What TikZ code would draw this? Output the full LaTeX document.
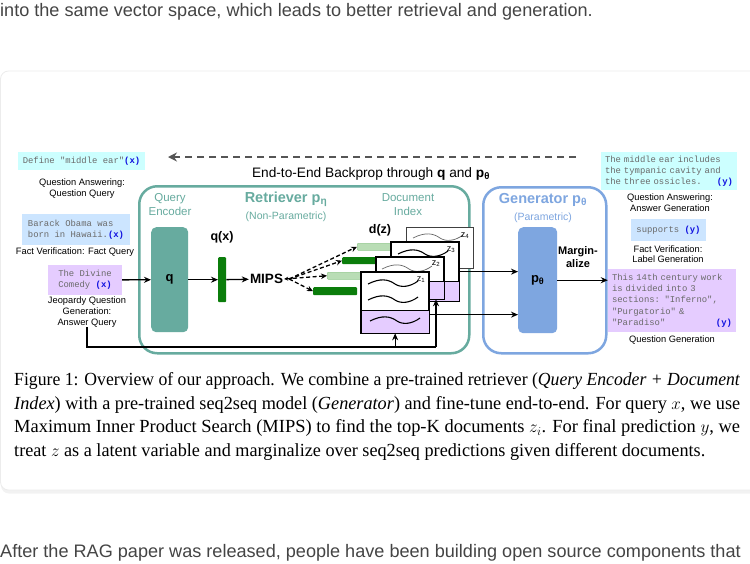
\documentclass[tikz,border=0pt]{standalone}
\usepackage{fontspec}
\usepackage{graphicx}
\setmainfont{Liberation Sans}
\setmonofont{Liberation Mono}
\newfontfamily\capfont{Liberation Serif}
\usetikzlibrary{arrows.meta}
\definecolor{tealc}{HTML}{67AB9F}
\definecolor{bluec}{HTML}{7EA6E0}
\definecolor{dgreen}{HTML}{0B7D0B}
\definecolor{lgreen}{HTML}{B9DDB5}
\definecolor{lgreenb}{HTML}{93C98F}
\definecolor{purpc}{HTML}{E5CCFF}
\definecolor{cyanc}{HTML}{CCFFFF}
\definecolor{lbluec}{HTML}{CCE5FF}
\definecolor{xbluec}{HTML}{1010E0}
\definecolor{monoc}{HTML}{6B6B6B}
\definecolor{webc}{HTML}{444444}
\definecolor{cardb}{HTML}{ECECEC}
\definecolor{bpc}{HTML}{555555}
\newcommand{\xv}{\textcolor{xbluec}{\bfseries(x)}}
\newcommand{\yv}{\textcolor{xbluec}{\bfseries(y)}}
\newcommand{\docpurp}[2]{%
  \fill[purpc] (#1.south west) rectangle ([yshift=#2]#1.south east);
  \draw[line width=1.3pt] ([yshift=#2]#1.south west) -- ([yshift=#2]#1.south east);
  \draw[line width=1.3pt] (#1.south west) rectangle (#1.north east);}
\tikzset{
  arr/.style={-{Stealth[length=7pt,width=6pt]}, line width=1.3pt},
  darr/.style={-{Stealth[length=6pt,width=5.5pt]}, line width=1.3pt, dash pattern=on 4pt off 2.5pt},
  lbl/.style={font=\fontsize{9.3}{10.6}\selectfont, align=center, inner sep=0pt},
  monobox/.style={font=\ttfamily\fontsize{8.9}{11.3}\selectfont, text=monoc, inner sep=0pt},
  tealtxt/.style={text=tealc, align=center, inner sep=0pt, font=\fontsize{11.5}{14.4}\selectfont},
  blk/.style={rounded corners=5pt, inner sep=0pt, anchor=north west},
  bar/.style={inner sep=0pt, anchor=north west, rounded corners=1pt},
  lightbar/.style={fill=lgreen, draw=lgreenb, line width=0.5pt},
  doc/.style={draw=black, line width=1.3pt, fill=white, inner sep=0pt, anchor=north west, minimum width=67pt},
  zl/.style={font=\fontsize{9}{10}\selectfont, inner sep=0pt},
  bold/.style={font=\bfseries\fontsize{12.5}{14}\selectfont, inner sep=0pt},
  squig/.pic={\draw[line width=1.1pt] (0,0) .. controls (12,-6) and (20,-5) .. (27,0) .. controls (33,4) and (42,3) .. (50,-3);},
  squigl/.pic={\draw[line width=0.7pt, black!60] (0,0) .. controls (12,-6) and (20,-5) .. (27,0) .. controls (33,4) and (42,3) .. (50,-3);},
  web/.style={anchor=base west, inner sep=0pt, text=webc, font=\fontsize{18.1}{22}\selectfont},
  capl/.style={anchor=base west, inner sep=0pt, font=\capfont\fontsize{18.5}{23.5}\selectfont}
}
\begin{document}
\begin{tikzpicture}[x=1pt,y=-1pt]
\path[use as bounding box] (0,0) rectangle (750,563);
% page text
\node[web] (toptxt) at (0,16) {into the same vector space, which leads to better retrieval and generation.};
\node[web] (bottxt) at (0,557) {After the RAG paper was released, people have been building open source components that};
% card
\fill[black!5, rounded corners=8pt] (1,74) rectangle (770,493.5);
\draw[cardb, fill=white, rounded corners=8pt, line width=0.8pt] (0.5,71) rectangle (770,490);
% backprop
\coordinate (bpS) at (576,157);
\coordinate (bpE) at (168,157);
\draw[bpc, line width=2pt, dash pattern=on 7pt off 5pt, -{Stealth[length=9pt,width=9pt]}] (bpS) -- (bpE);
\node[font=\fontsize{13.7}{15}\selectfont, inner sep=0pt] (bptxt) at (371,174) {End-to-End Backprop through \textbf{q} and \textbf{p\textsubscript{θ}}};
% containers
\node[draw=tealc, line width=2.5pt, rounded corners=18pt, minimum width=330pt, minimum height=167pt, anchor=north west, inner sep=0pt] (ret) at (138,185) {};
\node[draw=bluec, line width=2.5pt, rounded corners=18pt, minimum width=123pt, minimum height=166pt, anchor=north west, inner sep=0pt] (gen) at (482,186) {};
% retriever labels
\node[tealtxt] (qelab) at (170,204.5) {Query\\Encoder};
\node[text=tealc, font=\bfseries\fontsize{14.5}{16}\selectfont, inner sep=0pt] (rettitle) at (286,199) {Retriever p\textsubscript{η}};
\node[text=tealc, font=\fontsize{10.5}{12}\selectfont, inner sep=0pt] (retsub) at (286,217) {(Non-Parametric)};
\node[tealtxt] (dilab) at (408,204.5) {Document\\Index};
% query encoder
\node[fill=tealc, blk, minimum width=37pt, minimum height=105pt, font=\bfseries\fontsize{13}{15}\selectfont] (qenc) at (151,227) {q};
\node[fill=dgreen, bar, minimum width=8pt, minimum height=45pt] (qx) at (218,257) {};
\node[bold] (qxlab) at (222,237) {q(x)};
\node[font=\bfseries\fontsize{13.5}{15}\selectfont, inner sep=1pt] (mips) at (266.5,279) {MIPS};
\draw[arr] (qenc) -- (qx);
\draw[arr] (qx) -- (mips);
% bars
\node[bar, lightbar, minimum width=34pt, minimum height=7pt] (b4) at (357,243) {};
\node[bar, fill=dgreen, minimum width=35pt, minimum height=7pt] (b3) at (342,257) {};
\node[bar, lightbar, minimum width=50pt, minimum height=7pt] (b2) at (327,272) {};
\node[bar, fill=dgreen, minimum width=44pt, minimum height=8pt] (b1) at (313,287) {};
\draw[darr] ([xshift=5pt]mips.east) -- (b4.west);
\draw[darr] ([xshift=5pt]mips.east) -- (b3.west);
\draw[darr, {Stealth[length=4pt,width=4pt]}-{Stealth[length=6pt,width=5.5pt]}] (mips.east) -- (b2.west);
\draw[darr] ([xshift=5pt]mips.east) -- (b1.west);
\node[bold] (dz) at (380,230) {d(z)};
% documents
\node[doc, minimum height=41pt, draw=black!75] (z4) at (406,227) {};
\pic at (413,238) {squigl};
\node[zl] (z4l) at (465,236) {z\textsubscript{4}};
\node[doc, minimum height=58pt] (z3) at (391,242) {};
\docpurp{z3}{20pt}
\pic at (398,254) {squig};
\node[zl] (z3l) at (451,250) {z\textsubscript{3}};
\node[doc, minimum height=41pt] (z2) at (376,257) {};
\docpurp{z2}{18pt}
\pic at (382,269) {squigl};
\node[zl] (z2l) at (436,264) {z\textsubscript{2}};
\node[doc, minimum height=60pt] (z1) at (361,272) {};
\docpurp{z1}{23pt}
\pic at (368,284) {squig};
\pic at (368,300) {squig};
\pic at (370,321) {squig};
\node[zl] (z1l) at (421,280) {z\textsubscript{1}};
% generator
\node[text=bluec, font=\bfseries\fontsize{14.5}{16}\selectfont, inner sep=0pt] (gentitle) at (543,200) {Generator p\textsubscript{θ}};
\node[text=bluec, font=\fontsize{10.5}{12}\selectfont, inner sep=0pt] (gensub) at (543,218) {(Parametric)};
\node[fill=bluec, blk, minimum width=39pt, minimum height=106pt, font=\bfseries\fontsize{13}{15}\selectfont] (pgen) at (518,227) {p\textsubscript{θ}};
\node[font=\bfseries\fontsize{11}{13}\selectfont, align=center, inner sep=0pt] (marg) at (578,257.5) {Margin-\\alize};
\draw[arr] (z3.east) -- (z3.east -| pgen.west);
\draw[arr] ([yshift=-12pt]z1.east) -- ([yshift=-12pt]z1.east -| pgen.west);
% left inputs
\node[monobox, fill=cyanc, minimum width=127pt, minimum height=18pt] (lq) at (81.5,161) {Define "middle ear"\xv};
\node[lbl] (lqlab) at (82,188.5) {Question Answering:\\Question Query};
\node[monobox, fill=lbluec, minimum width=108pt, minimum height=31pt, align=left] (lf) at (76,229.5) {Barack Obama was\\born in Hawaii.\xv};
\node[lbl] (lflab) at (75,252) {Fact Verification: Fact Query};
\node[monobox, fill=purpc, minimum width=74pt, minimum height=30pt, align=left] (lj) at (85,280) {The Divine\\Comedy \xv};
\node[lbl] (jq) at (87,312) {Jeopardy Question\\Generation:\\Answer Query};
\draw[arr] (lj) -- (qenc);
\coordinate (bot) at (436,347);
\draw[line width=1.3pt] (jq.south) |- (bot);
\draw[arr] (bot) -- (bot |- z2.south);
\draw[arr] (z1.south |- bot) -- (z1.south);
% right outputs
\node[monobox, fill=cyanc, minimum width=136pt, minimum height=38pt, text width=128pt, align=left] (rq) at (669,171) {The middle ear includes\\the tympanic cavity and\\\makebox[\linewidth][l]{the three ossicles.\hfill\yv}};
\node[lbl] (rqlab) at (670,202.5) {Question Answering:\\Answer Generation};
\node[monobox, fill=lbluec, minimum width=75pt, minimum height=22pt] (rf) at (668.5,230) {supports \yv};
\node[lbl] (rflab) at (668,254) {Fact Verification:\\Label Generation};
\node[monobox, fill=purpc, minimum width=128pt, minimum height=63pt, text width=120pt, align=left] (rpurp) at (672,300.5) {This 14th century work\\is divided into 3\\sections: "Inferno",\\"Purgatorio" \&\\\makebox[\linewidth][l]{"Paradiso"\hfill\yv}};
\node[lbl] (rglab) at (672,340) {Question Generation};
\draw[arr] (pgen.east) -- (pgen.east -| rpurp.west);
% caption
\node[capl] (cap1) at (14,385.5) {\resizebox{726pt}{\height}{Figure 1: Overview of our approach. We combine a pre-trained retriever (\textit{Query Encoder + Document}}};
\node[capl] (cap2) at (14,409) {\resizebox{726pt}{\height}{\textit{Index}) with a pre-trained seq2seq model (\textit{Generator}) and fine-tune end-to-end. For query $x$, we use}};
\node[capl] (cap3) at (14,432.5) {\resizebox{726pt}{\height}{Maximum Inner Product Search (MIPS) to find the top-K documents $z_i$. For final prediction $y$, we}};
\node[capl] (cap4) at (14,456) {\resizebox{691pt}{\height}{treat $z$ as a latent variable and marginalize over seq2seq predictions given different documents.}};
\end{tikzpicture}
\end{document}
